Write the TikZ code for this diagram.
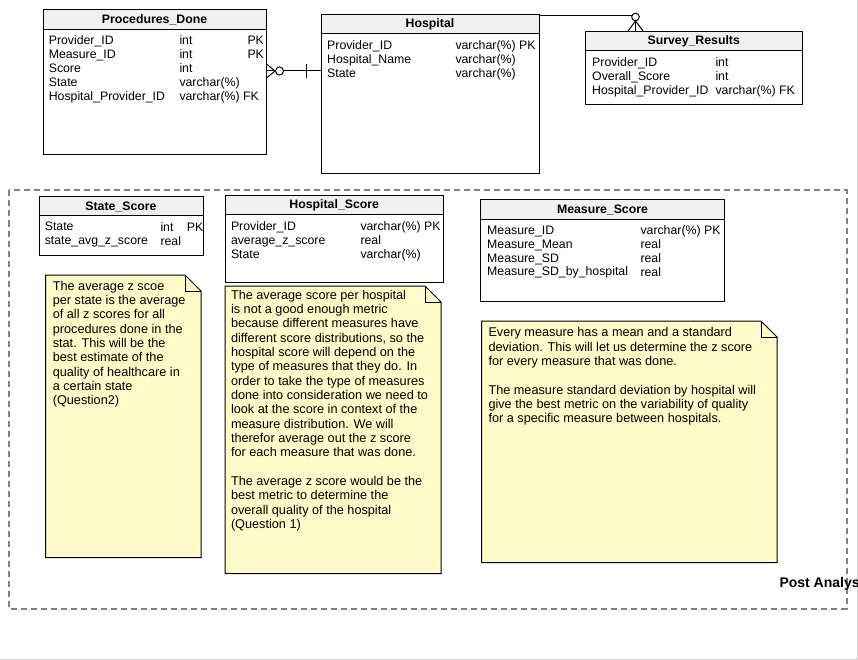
\documentclass[tikz,border=0pt]{standalone}
\usepackage{fontspec}
\setmainfont{Liberation Sans}
\usetikzlibrary{positioning,calc}
\definecolor{headgray}{HTML}{F0F0F0}
\definecolor{notefill}{HTML}{FFFAC8}
\definecolor{dashgray}{HTML}{808080}
\tikzset{
    every picture/.style={line width=1pt},
    tablebody/.style={draw,anchor=north west,inner sep=0pt},
    tablehead/.style={draw,fill=headgray,anchor=north west,inner sep=0pt,font=\bfseries\fontsize{12.3}{14}\selectfont},
    field/.style={anchor=north west,inner sep=0pt,align=left,font=\fontsize{12.3}{13.9}\selectfont},
    notetext/.style={anchor=north west,inner sep=0pt,align=left,font=\fontsize{12.7}{14.35}\selectfont},
    notebox/.style={draw,fill=notefill},
    areabox/.style={draw=dashgray,line width=2pt,dash pattern=on 6pt off 4pt}
}

\begin{document}
\begin{tikzpicture}[x=1pt,y=-1pt]
    \useasboundingbox (0,0) rectangle (858,660);
    \clip (0,0) rectangle (858,660);
    \draw[gray!35] (0,659.5) -- (857.5,659.5) -- (857.5,0);

    % tables of the data base
    \node[tablebody,minimum width=223pt,minimum height=145pt] (proc) at (42.5,9) {};
    \node[tablehead,minimum width=223pt,minimum height=20pt] (prochead) at (42.5,9) {Procedures\_Done};
    \node[field] (procname) at (48.3,35) {Provider\_ID\\Measure\_ID\\Score\\State\\Hospital\_Provider\_ID};
    \node[field] (proctype) at (179,35) {\makebox[68pt][l]{int}PK\\\makebox[68pt][l]{int}PK\\int\\varchar(\%)\\varchar(\%) FK};

    \node[tablebody,minimum width=218pt,minimum height=159pt] (hosp) at (320.5,14) {};
    \node[tablehead,minimum width=218pt,minimum height=19pt] (hosphead) at (320.5,14) {Hospital};
    \node[field] (hospname) at (326.7,40.3) {Provider\_ID\\Hospital\_Name\\State};
    \node[field] (hosptype) at (455,40.3) {varchar(\%) PK\\varchar(\%)\\varchar(\%)};

    \node[tablebody,minimum width=216.5pt,minimum height=73pt] (surv) at (585,31) {};
    \node[tablehead,minimum width=216.5pt,minimum height=19pt] (survhead) at (585,31) {Survey\_Results};
    \node[field] (survname) at (591.7,57) {Provider\_ID\\Overall\_Score\\Hospital\_Provider\_ID};
    \node[field] (survtype) at (715,57) {int\\int\\varchar(\%) FK};

    % relations
    \draw (proc.north east |- 0,71) -- (hosp.north west |- 0,71);
    \draw (proc.north east |- 0,64) -- (275,71) -- (proc.north east |- 0,78);
    \draw[fill=white] (279.5,71) circle (4pt);
    \draw (306,64) -- (306,78);

    \draw (hosp.north east |- 0,16) -- (635.5,16) -- (surv.north west -| 635.5,0);
    \draw (surv.north west -| 628,0) -- (635.5,21) -- (surv.north west -| 643,0);
    \draw[fill=white] (635.5,17) circle (3.8pt);

    % post analysis
    \draw[areabox] (9,190.5) rectangle (846.5,608.5);
    \node[anchor=base west,inner sep=0pt,font=\bfseries\fontsize{14}{16}\selectfont] (post) at (779,587) {Post Analysis};

    \node[tablebody,minimum width=164pt,minimum height=58.5pt] (state) at (38.5,196.5) {};
    \node[tablehead,minimum width=164pt,minimum height=19pt] (statehead) at (38.5,196.5) {State\_Score};
    \node[field] (statename) at (44.3,221.7) {State\\state\_avg\_z\_score};
    \node[field] (statetype) at (160,221.7) {\makebox[26.5pt][l]{int}PK\\real};

    \node[tablebody,minimum width=218.5pt,minimum height=86.5pt] (hscore) at (224.5,195.5) {};
    \node[tablehead,minimum width=218.5pt,minimum height=19pt] (hscorehead) at (224.5,195.5) {Hospital\_Score};
    \node[field] (hscorename) at (230.5,221.5) {Provider\_ID\\average\_z\_score\\State};
    \node[field] (hscoretype) at (360,221.5) {varchar(\%) PK\\real\\varchar(\%)};

    \node[tablebody,minimum width=244pt,minimum height=101.5pt] (mscore) at (480,199.5) {};
    \node[tablehead,minimum width=244pt,minimum height=20pt] (mscorehead) at (480,199.5) {Measure\_Score};
    \node[field] (mscorename) at (486.7,225.3) {Measure\_ID\\Measure\_Mean\\Measure\_SD\\Measure\_SD\_by\_hospital};
    \node[field] (mscoretype) at (640,225.3) {varchar(\%) PK\\real\\real\\real};

    % notes
    \draw[notebox] (45.5,275) -- (185,275) -- (201,291) -- (201,557.5) -- (45.5,557.5) -- cycle;
    \draw (185,275) -- (185,291) -- (201,291);
    \node[notetext] (statenote) at (52.3,280.3) {The average z scoe\\per state is the average\\of all z scores for all\\procedures done in the\\stat. This will be the\\best estimate of the\\quality of healthcare in\\a certain state\\(Question2)};

    \draw[notebox] (225,286) -- (425,286) -- (441,302) -- (441,573.5) -- (225,573.5) -- cycle;
    \draw (425,286) -- (425,302) -- (441,302);
    \node[notetext] (hscorenote) at (230.5,289.3) {The average score per hospital\\is not a good enough metric\\because different measures have\\different score distributions, so the\\hospital score will depend on the\\type of measures that they do. In\\order to take the type of measures\\done into consideration we need to\\look at the score in context of the\\measure distribution. We will\\therefor average out the z score\\for each measure that was done.\\[14.35pt]The average z score would be the\\best metric to determine the\\overall quality of the hospital\\(Question 1)};

    \draw[notebox] (481.5,321) -- (761,321) -- (777,337) -- (777,562.5) -- (481.5,562.5) -- cycle;
    \draw (761,321) -- (761,337) -- (777,337);
    \node[notetext] (mscorenote) at (488,327) {Every measure has a mean and a standard\\deviation. This will let us determine the z score\\for every measure that was done.\\[14.35pt]The measure standard deviation by hospital will\\give the best metric on the variability of quality\\for a specific measure between hospitals.};
\end{tikzpicture}
\end{document}
